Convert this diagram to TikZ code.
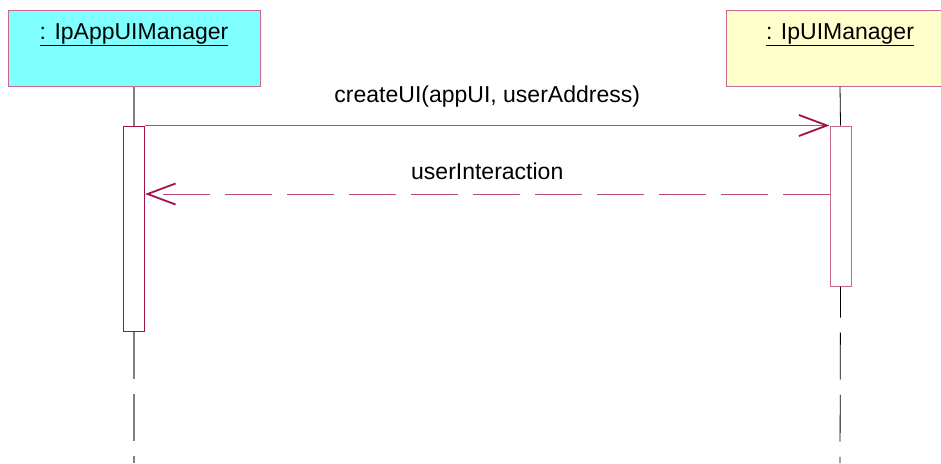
\documentclass[tikz,border=0pt]{standalone}
\usepackage{fontspec}
\setmainfont{Liberation Sans}
\usepackage{xcolor}
\usepackage{tikz}
\usetikzlibrary{arrows.meta, positioning}
\definecolor{msgred}{HTML}{A3124C}
\definecolor{msgline}{HTML}{BC4A78}
\definecolor{boxedge}{HTML}{C8668E}
\definecolor{appfill}{HTML}{80FFFF}
\definecolor{uifill}{HTML}{FFFFCC}

\begin{document}
\begin{tikzpicture}[x=1pt, y=-1pt,
    objbox/.style={draw=boxedge, line width=1pt, inner sep=0pt, minimum height=76pt},
    objname/.style={anchor=base, font=\fontsize{23}{27}\selectfont},
    actbar/.style={draw=#1, fill=white, line width=1pt, inner sep=0pt, minimum width=21pt},
    lifeline/.style={line width=#1},
    msg/.style={draw=msgline, line width=0.9pt, -{Straight Barb[length=28pt, width=21pt, line width=1.8pt, color=msgred]}},
    msglbl/.style={anchor=base, font=\fontsize{23}{27}\selectfont}]
\useasboundingbox (0,0) rectangle (941,463);
\clip (0,0) rectangle (941,463);

% objects
\node[objbox, fill=appfill, minimum width=252pt] (appbox) at (134,48) {};
\node[objbox, fill=uifill, minimum width=228pt] (uibox) at (840,48) {};
\node[objname] (appname) at (134,39) {\underline{: IpAppUIManager}};
\node[objname] (uiname) at (840,39) {\underline{: IpUIManager}};

% lifelines
\coordinate (append) at (134,463);
\coordinate (uiend) at (840,463);
\node[actbar=msgred, minimum height=205pt] (appact) at (134,228.5) {};
\node[actbar=boxedge, minimum height=160pt] (uiact) at (840.5,206) {};
\draw[lifeline=1.3pt, gray] (appbox.south) -- (appact.north);
\draw[lifeline=0.8pt, black] (uibox.south) -- (uiact.north);
\draw[lifeline=1.3pt, gray, dash pattern=on 47pt off 15pt] (appact.south) -- (append);
\draw[lifeline=0.8pt, black, dash pattern=on 47pt off 15pt, dash phase=16pt] (uiact.south) -- (uiend);

% messages
\draw[msg] (appact.north east) -- node[msglbl, above=14pt] (createlbl) {createUI(appUI, userAddress)} (uiact.north west);
\draw[msg, dash pattern=on 47pt off 15pt] (uiact.west |- 0,194) -- node[msglbl, above=10pt] (interlbl) {userInteraction} (appact.east |- 0,194);
\end{tikzpicture}
\end{document}
